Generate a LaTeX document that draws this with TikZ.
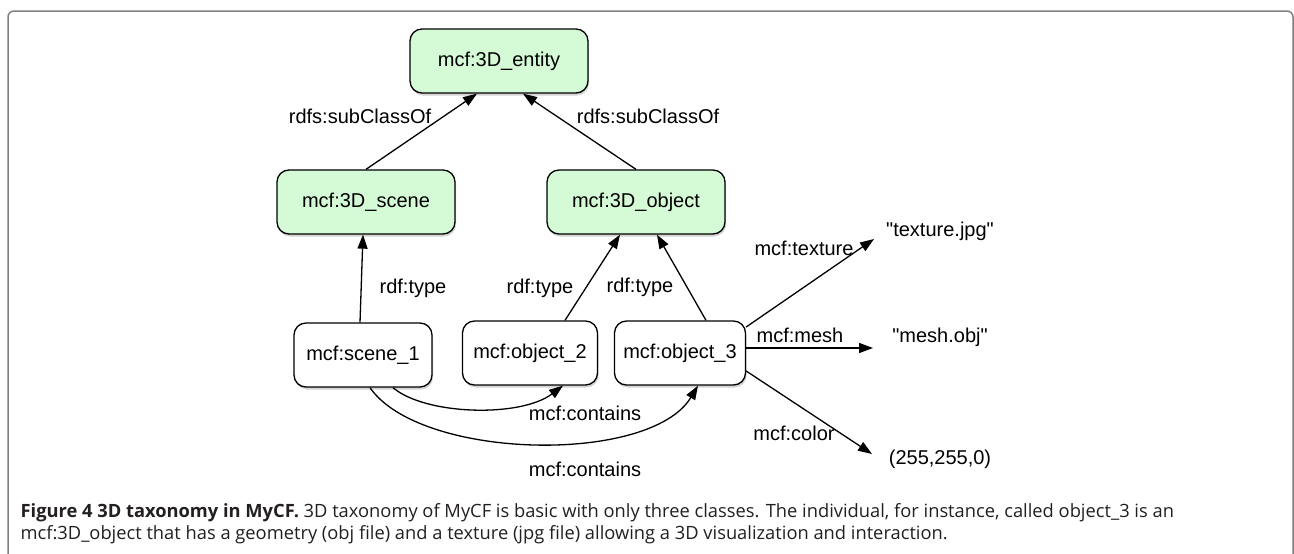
\documentclass[tikz,border=0pt]{standalone}
\usepackage{fontspec}
\setmainfont{Liberation Sans}
\newfontfamily\capfont{Open Sans}
\usetikzlibrary{arrows.meta,shadows}
\definecolor{classgreen}{RGB}{213,250,214}
\definecolor{framegray}{RGB}{128,128,128}
\definecolor{captext}{RGB}{35,31,32}

\begin{document}
\begin{tikzpicture}[x=1pt,y=-1pt,line width=1.3pt,>={Triangle[length=14pt,width=10pt]}]
\tikzset{classbox/.style={draw, rounded corners=12pt, fill=classgreen, minimum width=178pt, minimum height=64pt,
    drop shadow={shadow xshift=1pt, shadow yshift=-2.5pt, opacity=.35}, font=\fontsize{20}{24}\selectfont}}
\tikzset{indbox/.style={draw, rounded corners=12pt, fill=white, minimum height=64pt,
    drop shadow={shadow xshift=1pt, shadow yshift=-2.5pt, opacity=.35}, font=\fontsize{20}{24}\selectfont}}
\tikzset{lbl/.style={inner sep=1pt, font=\fontsize{20}{24}\selectfont}}
\useasboundingbox (0,0) rectangle (1294,554);
\draw[framegray, line width=1.5pt, rounded corners=6pt] (8,560) -- (8,11) -- (1293,11) -- (1293,560);
% classes
\node[classbox] (E) at (499,61) {mcf:3D\_entity};
\node[classbox] (S) at (366,202) {mcf:3D\_scene};
\node[classbox] (O) at (636,202) {mcf:3D\_object};
% individuals
\node[indbox, minimum width=138pt] (S1) at (363,355) {mcf:scene\_1};
\node[indbox, minimum width=135pt] (O2) at (530,353) {mcf:object\_2};
\node[indbox, minimum width=131pt] (O3) at (680,353) {mcf:object\_3};
% literals
\node[lbl] (T) at (940,231) {\textquotedbl texture.jpg\textquotedbl};
\node[lbl] (M) at (940,337) {\textquotedbl mesh.obj\textquotedbl};
\node[lbl] (C) at (940,459) {(255,255,0)};
\coordinate (Ttip) at (874,239);
\coordinate (Mtip) at (873,348);
\coordinate (Ctip) at (872,454);
% edges
\draw[->] (S.north) -- ([xshift=-22pt]E.south);
\draw[->] (O.north) -- ([xshift=24pt]E.south);
\draw[->] ([xshift=-3pt]S1.north) -- ([xshift=-3pt]S.south);
\draw[->] ([xshift=35pt]O2.north) -- ([xshift=-16pt]O.south);
\draw[->] ([xshift=26pt]O3.north) -- ([xshift=21pt]O.south);
\draw[->] ([xshift=30pt]S1.south) .. controls (425,415) and (520,418) .. ([xshift=33pt]O2.south);
\draw[->] ([xshift=7pt]S1.south) .. controls (420,460) and (650,465) .. ([xshift=18pt]O3.south);
\draw[->] ([yshift=26pt]O3.east) -- (Ttip);
\draw[->] ([yshift=5pt]O3.east) -- (Mtip);
\draw[->] ([yshift=-18pt]O3.east) -- (Ctip);
% edge labels
\node[lbl] (l1) at (360,116) {rdfs:subClassOf};
\node[lbl] (l2) at (648,116) {rdfs:subClassOf};
\node[lbl] (l3) at (413,288) {rdf:type};
\node[lbl] (l4) at (540,288) {rdf:type};
\node[lbl] (l5) at (640,287) {rdf:type};
\node[lbl] (l6) at (585,413) {mcf:contains};
\node[lbl] (l7) at (585,469) {mcf:contains};
\node[lbl] (l8) at (804,248) {mcf:texture};
\node[lbl] (l9) at (800,335) {mcf:mesh};
\node[lbl] (l10) at (794,433) {mcf:color};
% caption
\node[anchor=west, inner sep=0pt, text=captext, font=\capfont\fontsize{18.3}{22}\selectfont] (cap1) at (20,513)
  {\textbf{Figure 4 3D taxonomy in MyCF.} 3D taxonomy of MyCF is basic with only three classes. The individual, for instance, called object\_3 is an};
\node[anchor=west, inner sep=0pt, text=captext, font=\capfont\fontsize{18.3}{22}\selectfont] (cap2) at (20,535)
  {mcf:3D\_object that has a geometry (obj file) and a texture (jpg file) allowing a 3D visualization and interaction.};
\end{tikzpicture}
\end{document}
